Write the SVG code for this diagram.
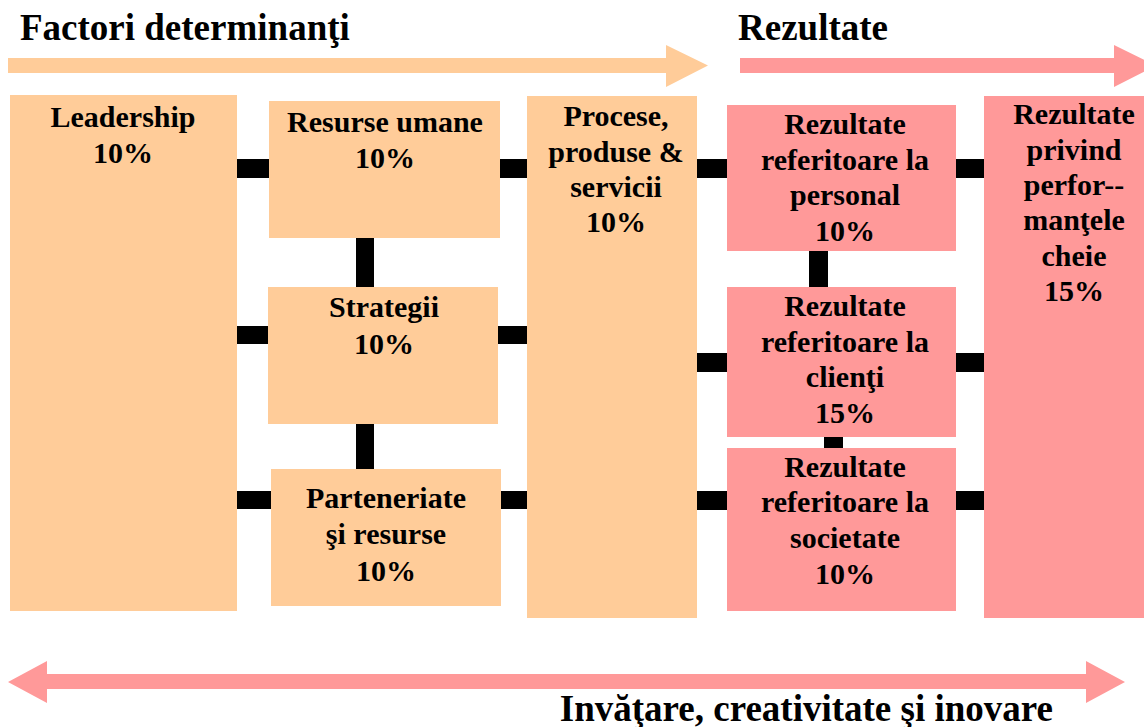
<svg xmlns="http://www.w3.org/2000/svg" width="1144" height="727" viewBox="0 0 1144 727" font-family="Liberation Serif, Noto Serif, DejaVu Serif, Times New Roman, Times, serif" font-weight="bold">
  <style>
    .drv { fill: #FFCC99; }
    .res { fill: #FF9999; }
    .link { fill: #000000; }
    .lbl { font-size: 30px; fill: #000000; text-anchor: middle; }
    .head { font-size: 37px; fill: #000000; }
  </style>

  <rect width="1144" height="727" fill="#ffffff"/>

  <!-- section titles and direction arrows -->
  <g id="header-drivers">
    <text class="head" x="20" y="40">Factori determinanţi</text>
    <polygon class="drv" points="8,58 666,58 666,45 708,65.5 666,87 666,73 8,73"/>
  </g>
  <g id="header-results">
    <text class="head" x="738" y="40">Rezultate</text>
    <polygon class="res" points="740,58 1114,58 1114,45 1156,65.5 1114,87 1114,73 740,73"/>
  </g>

  <!-- links between blocks -->
  <g id="connectors">
    <rect class="link" x="235" y="159" width="36" height="19"/>
    <rect class="link" x="498" y="159" width="31" height="19"/>
    <rect class="link" x="235" y="326" width="35" height="18"/>
    <rect class="link" x="496" y="326" width="33" height="18"/>
    <rect class="link" x="235" y="491" width="38" height="18"/>
    <rect class="link" x="499" y="491" width="30" height="18"/>
    <rect class="link" x="695" y="159" width="34" height="19"/>
    <rect class="link" x="954" y="159" width="32" height="19"/>
    <rect class="link" x="695" y="353" width="34" height="19"/>
    <rect class="link" x="954" y="353" width="32" height="19"/>
    <rect class="link" x="695" y="491" width="34" height="19"/>
    <rect class="link" x="954" y="491" width="32" height="19"/>
    <rect class="link" x="356" y="236" width="18" height="53"/>
    <rect class="link" x="356" y="422" width="18" height="49"/>
    <rect class="link" x="809" y="250" width="19" height="39"/>
    <rect class="link" x="824" y="435" width="19" height="15"/>
  </g>

  <!-- enablers -->
  <g id="leadership">
    <rect class="drv" x="10" y="95" width="227" height="516"/>
    <text class="lbl" x="123" y="127">Leadership</text>
    <text class="lbl" x="123" y="163">10%</text>
  </g>
  <g id="resurse-umane">
    <rect class="drv" x="269" y="101" width="231" height="137"/>
    <text class="lbl" x="385" y="132">Resurse umane</text>
    <text class="lbl" x="385" y="168">10%</text>
  </g>
  <g id="strategii">
    <rect class="drv" x="268" y="287" width="230" height="137"/>
    <text class="lbl" x="384" y="317">Strategii</text>
    <text class="lbl" x="384" y="354">10%</text>
  </g>
  <g id="parteneriate">
    <rect class="drv" x="271" y="469" width="230" height="137"/>
    <text class="lbl" x="386" y="508">Parteneriate</text>
    <text class="lbl" x="386" y="544">şi resurse</text>
    <text class="lbl" x="386" y="581">10%</text>
  </g>
  <g id="procese">
    <rect class="drv" x="527" y="96" width="170" height="522"/>
    <text class="lbl" x="616" y="126">Procese,</text>
    <text class="lbl" x="616" y="162">produse &amp;</text>
    <text class="lbl" x="616" y="197">servicii</text>
    <text class="lbl" x="616" y="232">10%</text>
  </g>

  <!-- results -->
  <g id="rezultate-personal">
    <rect class="res" x="727" y="105" width="229" height="146"/>
    <text class="lbl" x="845" y="134">Rezultate</text>
    <text class="lbl" x="845" y="170">referitoare la</text>
    <text class="lbl" x="845" y="205">personal</text>
    <text class="lbl" x="845" y="241">10%</text>
  </g>
  <g id="rezultate-clienti">
    <rect class="res" x="727" y="287" width="229" height="150"/>
    <text class="lbl" x="845" y="316">Rezultate</text>
    <text class="lbl" x="845" y="352">referitoare la</text>
    <text class="lbl" x="845" y="387">clienţi</text>
    <text class="lbl" x="845" y="423">15%</text>
  </g>
  <g id="rezultate-societate">
    <rect class="res" x="727" y="448" width="229" height="163"/>
    <text class="lbl" x="845" y="477">Rezultate</text>
    <text class="lbl" x="845" y="512">referitoare la</text>
    <text class="lbl" x="845" y="548">societate</text>
    <text class="lbl" x="845" y="584">10%</text>
  </g>
  <g id="rezultate-cheie">
    <rect class="res" x="984" y="96" width="170" height="522"/>
    <text class="lbl" x="1074" y="124">Rezultate</text>
    <text class="lbl" x="1074" y="160">privind</text>
    <text class="lbl" x="1074" y="195">perfor--</text>
    <text class="lbl" x="1074" y="230">manţele</text>
    <text class="lbl" x="1074" y="266">cheie</text>
    <text class="lbl" x="1074" y="301">15%</text>
  </g>

  <!-- learning feedback arrow -->
  <g id="footer-learning">
    <polygon class="res" points="8,682 47,661 47,674 1086,674 1086,661 1125,682 1086,703 1086,689 47,689 47,703"/>
    <text class="head" x="1053" y="721" text-anchor="end">Invăţare, creativitate şi inovare</text>
  </g>
</svg>
